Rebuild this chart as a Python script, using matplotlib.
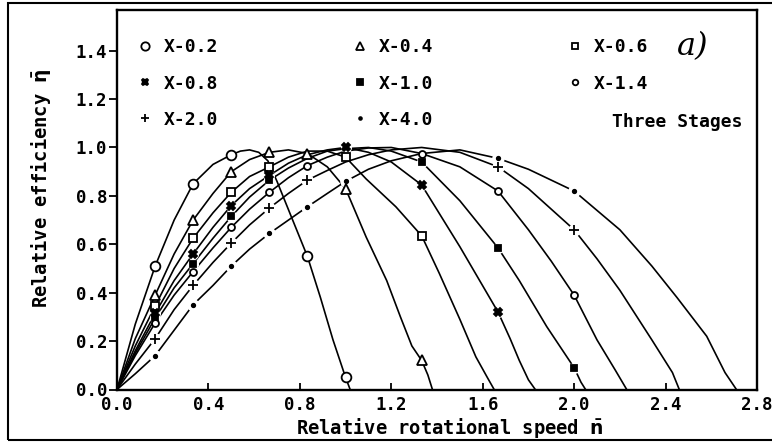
import matplotlib
matplotlib.use('Agg')
import matplotlib.pyplot as plt
from matplotlib.lines import Line2D
from matplotlib.patches import Rectangle

plt.rcParams['font.family'] = 'DejaVu Sans Mono'
plt.rcParams['font.weight'] = 'bold'
plt.rcParams['axes.labelweight'] = 'bold'
plt.rcParams['mathtext.fontset'] = 'dejavusans'
plt.rcParams['mathtext.default'] = 'bf'

# efficiency curves, relative speed n vs relative efficiency eta, one per X
n_02 = [0, 0.08, 0.167, 0.25, 0.333, 0.42, 0.5, 0.54, 0.58, 0.62, 0.66, 0.70, 0.76, 0.833, 0.89, 0.945, 1.0, 1.02]
eta_02 = [0, 0.27, 0.51, 0.70, 0.85, 0.93, 0.97, 0.985, 0.99, 0.98, 0.945, 0.86, 0.72, 0.55, 0.38, 0.205, 0.05, 0]
n_04 = [0, 0.08, 0.167, 0.25, 0.333, 0.42, 0.5, 0.58, 0.667, 0.75, 0.833, 0.92, 1.0, 1.09, 1.18, 1.24, 1.29, 1.333, 1.36, 1.38]
eta_04 = [0, 0.21, 0.39, 0.56, 0.70, 0.81, 0.90, 0.95, 0.98, 0.99, 0.975, 0.92, 0.83, 0.63, 0.45, 0.30, 0.18, 0.12, 0.06, 0]
n_06 = [0, 0.08, 0.167, 0.25, 0.333, 0.42, 0.5, 0.58, 0.667, 0.75, 0.833, 0.92, 1.0, 1.09, 1.22, 1.333, 1.41, 1.5, 1.57, 1.62, 1.65]
eta_06 = [0, 0.18, 0.345, 0.50, 0.625, 0.73, 0.815, 0.88, 0.92, 0.96, 0.985, 0.985, 0.96, 0.87, 0.755, 0.635, 0.48, 0.29, 0.135, 0.05, 0]
n_08 = [0, 0.08, 0.167, 0.25, 0.333, 0.42, 0.5, 0.58, 0.667, 0.75, 0.833, 0.92, 1.0, 1.1, 1.2, 1.333, 1.5, 1.667, 1.72, 1.76, 1.8, 1.83]
eta_08 = [0, 0.16, 0.315, 0.45, 0.56, 0.67, 0.76, 0.83, 0.885, 0.935, 0.97, 0.99, 1.0, 0.98, 0.94, 0.845, 0.59, 0.32, 0.21, 0.12, 0.04, 0]
n_10 = [0, 0.08, 0.167, 0.25, 0.333, 0.42, 0.5, 0.58, 0.667, 0.75, 0.833, 0.92, 1.0, 1.1, 1.2, 1.333, 1.5, 1.667, 1.76, 1.88, 2.0, 2.03, 2.05]
eta_10 = [0, 0.15, 0.295, 0.42, 0.52, 0.625, 0.715, 0.795, 0.865, 0.915, 0.955, 0.985, 0.995, 1.0, 0.985, 0.94, 0.78, 0.585, 0.45, 0.26, 0.09, 0.03, 0]
n_14 = [0, 0.08, 0.167, 0.25, 0.333, 0.42, 0.5, 0.58, 0.667, 0.75, 0.833, 0.92, 1.0, 1.1, 1.2, 1.333, 1.5, 1.667, 1.8, 1.9, 2.0, 2.1, 2.18, 2.23]
eta_14 = [0, 0.14, 0.275, 0.39, 0.487, 0.585, 0.67, 0.745, 0.815, 0.875, 0.925, 0.96, 0.985, 0.998, 1.0, 0.975, 0.92, 0.82, 0.66, 0.53, 0.39, 0.205, 0.08, 0]
n_20 = [0, 0.08, 0.167, 0.25, 0.333, 0.42, 0.5, 0.58, 0.667, 0.75, 0.833, 0.92, 1.0, 1.1, 1.2, 1.333, 1.5, 1.667, 1.8, 2.0, 2.1, 2.2, 2.34, 2.43, 2.46]
eta_20 = [0, 0.105, 0.21, 0.33, 0.43, 0.525, 0.605, 0.68, 0.75, 0.81, 0.865, 0.905, 0.94, 0.97, 0.99, 1.0, 0.98, 0.92, 0.83, 0.66, 0.54, 0.41, 0.205, 0.07, 0]
n_40 = [0, 0.08, 0.167, 0.25, 0.333, 0.42, 0.5, 0.58, 0.667, 0.75, 0.833, 0.92, 1.0, 1.1, 1.2, 1.333, 1.5, 1.667, 1.8, 2.0, 2.2, 2.34, 2.45, 2.58, 2.66, 2.71]
eta_40 = [0, 0.065, 0.14, 0.245, 0.35, 0.43, 0.51, 0.58, 0.645, 0.70, 0.755, 0.81, 0.86, 0.91, 0.945, 0.975, 0.99, 0.955, 0.91, 0.82, 0.66, 0.51, 0.38, 0.22, 0.07, 0]

# measured points carrying a symbol
mn_02 = [0.167, 0.333, 0.5, 0.833, 1.0]
me_02 = [0.51, 0.85, 0.97, 0.55, 0.05]
mn_04 = [0.167, 0.333, 0.5, 0.667, 0.833, 1.0, 1.333]
me_04 = [0.39, 0.70, 0.90, 0.98, 0.975, 0.83, 0.12]
mn_06 = [0.167, 0.333, 0.5, 0.667, 1.0, 1.333]
me_06 = [0.345, 0.625, 0.815, 0.92, 0.96, 0.635]
mn_08 = [0.167, 0.333, 0.5, 0.667, 1.0, 1.333, 1.667]
me_08 = [0.315, 0.56, 0.76, 0.885, 1.0, 0.845, 0.32]
mn_10 = [0.167, 0.333, 0.5, 0.667, 1.333, 1.667, 2.0]
me_10 = [0.295, 0.52, 0.715, 0.865, 0.94, 0.585, 0.09]
mn_14 = [0.167, 0.333, 0.5, 0.667, 0.833, 1.333, 1.667, 2.0]
me_14 = [0.275, 0.487, 0.67, 0.815, 0.925, 0.975, 0.82, 0.39]
mn_20 = [0.167, 0.333, 0.5, 0.667, 0.833, 1.667, 2.0]
me_20 = [0.21, 0.43, 0.605, 0.75, 0.865, 0.92, 0.66]
mn_40 = [0.167, 0.333, 0.5, 0.667, 0.833, 1.0, 1.667, 2.0]
me_40 = [0.14, 0.35, 0.51, 0.645, 0.755, 0.86, 0.955, 0.82]

labels = ['X-0.2', 'X-0.4', 'X-0.6', 'X-0.8', 'X-1.0', 'X-1.4', 'X-2.0', 'X-4.0']
xticks = [0.0, 0.4, 0.8, 1.2, 1.6, 2.0, 2.4, 2.8]
yticks = [0.0, 0.2, 0.4, 0.6, 0.8, 1.0, 1.2, 1.4]

# symbol, size, face colour, halo size
styles = [
    ('o', 7.0, 'white', 0),
    ('^', 6.5, 'white', 0),
    ('s', 6.0, 'white', 0),
    ('X', 6.0, 'black', 7),
    ('s', 5.0, 'black', 7),
    ('o', 5.0, 'white', 0),
    ('+', 6.5, 'black', 8),
    ('.', 5.0, 'black', 8),
]

series = [
    (n_02, eta_02, mn_02, me_02),
    (n_04, eta_04, mn_04, me_04),
    (n_06, eta_06, mn_06, me_06),
    (n_08, eta_08, mn_08, me_08),
    (n_10, eta_10, mn_10, me_10),
    (n_14, eta_14, mn_14, me_14),
    (n_20, eta_20, mn_20, me_20),
    (n_40, eta_40, mn_40, me_40),
]

fig = plt.figure(figsize=(7.72, 4.42), dpi=100)
ax = fig.add_axes([117 / 772, 52.5 / 442, 640 / 772, 379.5 / 442])

handles = []
for (n, eta, mn, me), (mk, ms, fc, halo), lab in zip(series, styles, labels):
    ax.plot(n, eta, color='black', lw=1.2, zorder=2, solid_joinstyle='round')
    if halo:
        # white gap in the line around thin symbols
        ax.plot(mn, me, ls='none', marker='o', ms=halo, mfc='white', mec='white', zorder=3)
    ax.plot(mn, me, ls='none', marker=mk, ms=ms, mfc=fc, mec='black', mew=1.3, zorder=4)
    handles.append(Line2D([], [], ls='none', marker=mk, ms=ms - 1, mfc=fc, mec='black', mew=1.3, label=lab))

ax.set_xlim(0, 2.8)
ax.set_ylim(0, 1.568)
ax.set_xticks(xticks)
ax.set_yticks(yticks)
ax.set_xticklabels([f'{v:.1f}' for v in xticks])
ax.set_yticklabels([f'{v:.1f}' for v in yticks])
ax.tick_params(axis='x', direction='in', length=5, width=1.3, pad=5, labelsize=12.5)
ax.tick_params(axis='y', direction='out', length=6, width=1.3, pad=1, labelsize=12.5)
for s in ax.spines.values():
    s.set_linewidth(1.7)

ax.set_xlabel(r'Relative rotational speed $\bar{n}$', fontsize=13.5)
ax.xaxis.set_label_coords(0.52, -0.07)
ax.set_ylabel(r'Relative efficiency $\bar{\eta}$', fontsize=13.5)
ax.yaxis.set_label_coords(-0.10, 0.53)

# legend laid out row by row: reorder for column filling
order = [0, 3, 6, 1, 4, 7, 2, 5]
ax.legend([handles[i] for i in order], [labels[i] for i in order], ncol=3,
          loc='upper left', bbox_to_anchor=(0.03, 0.925), frameon=False,
          prop={'size': 13, 'weight': 'bold'}, handlelength=1.0, handletextpad=0.5,
          columnspacing=7.4, labelspacing=1.0, borderpad=0, borderaxespad=0)

ax.text(0.977, 0.705, 'Three Stages', transform=ax.transAxes, ha='right', va='center', fontsize=13)
ax.text(0.90, 0.905, 'a)', transform=ax.transAxes, ha='center', va='center',
        fontsize=23, family='DejaVu Serif', style='italic', weight='normal')

# outer border round the whole figure
fig.add_artist(Rectangle((8 / 772, 2 / 442), 1.2, 437 / 442, transform=fig.transFigure,
                         fill=False, lw=1.5, ec='black', clip_on=False))

fig.savefig('out.png', dpi=100)
